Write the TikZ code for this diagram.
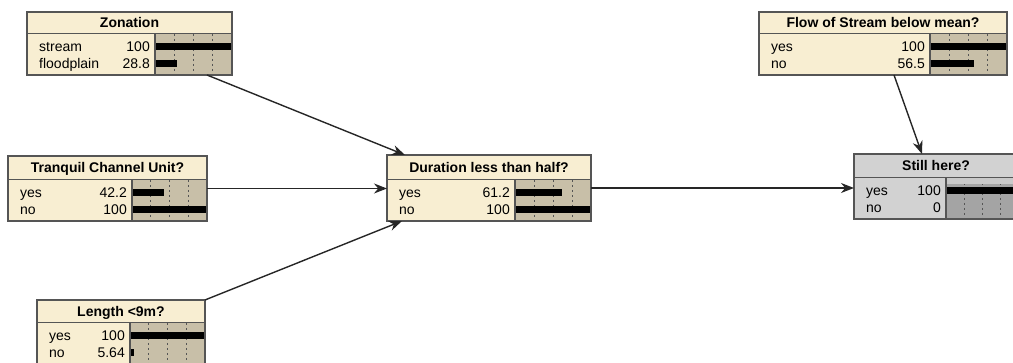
\documentclass[tikz,border=0pt]{standalone}
\usepackage{fontspec}
\setmainfont{Liberation Sans}
\usetikzlibrary{arrows.meta}
\definecolor{cream}{HTML}{F8EED2}
\definecolor{tanc}{HTML}{C8BFA8}
\definecolor{framec}{HTML}{555555}
\definecolor{ltgray}{HTML}{D2D2D2}
\definecolor{midgray}{HTML}{A4A4A4}
\colorlet{bodyc}{cream}
\colorlet{barc}{tanc}
\tikzset{
  boxframe/.style={draw=framec, line width=1.8pt},
  tickline/.style={draw=framec, line width=1pt, dash pattern=on 2pt off 3pt},
  titletext/.style={font=\bfseries\fontsize{14}{16}\selectfont, inner sep=0pt, anchor=base},
  lbl/.style={font=\fontsize{14}{16}\selectfont, inner sep=0pt, anchor=base west},
  val/.style={font=\fontsize{14}{16}\selectfont, inner sep=0pt, anchor=base east},
  arr/.style={draw=black!85, line width=1.4pt, -{Stealth[length=13pt,width=10pt]}},
}
% name, x1, y1, x2, y2, title-line y, bar-left x, title
\newcommand\bnbox[8]{%
  \def\bnxa{#2}\def\bnbx{#7}\def\bnxb{#4}\def\bnty{#6}\def\bnyb{#5}%
  \node[fill=bodyc, draw=none, inner sep=0pt, outer sep=0pt,
        minimum width={(#4-#2)*1pt}, minimum height={(#5-#3)*1pt}]
        (#1) at ({(#2+#4)/2},{(#3+#5)/2}) {};
  \node[titletext] (#1-t) at ({(#2+#4)/2},{(#3+#6)/2+5}) {#8};
  \fill[barc] (#7,#6) rectangle (#4,#5);
  \foreach \f in {0.25,0.5,0.75}
    \draw[tickline] ({#7+\f*(#4-#7)},#6) -- ({#7+\f*(#4-#7)},#5);
}
% name, y offset of row centre below title line, label, value, fraction
\newcommand\bnrow[5]{%
  \node[lbl] (#1-l) at ({\bnxa+12},{\bnty+#2+5}) {#3};
  \node[val] (#1-v) at ({\bnbx-5},{\bnty+#2+5}) {#4};
  \fill[black] (\bnbx,{\bnty+#2-3.7}) rectangle ({\bnbx+#5*(\bnxb-\bnbx)},{\bnty+#2+3.7});
}
\newcommand\bnclose[1]{%
  \draw[framec, line width=1pt] (\bnxa,\bnty) -- (\bnxb,\bnty);
  \draw[framec, line width=1.2pt] (\bnbx,\bnty) -- (\bnbx,\bnyb);
  \draw[boxframe] (#1.north west) rectangle (#1.south east);
}
\begin{document}
\begin{tikzpicture}[x=1pt,y=-1pt]
\useasboundingbox (0,0) rectangle (1013,363);
\clip (0,0) rectangle (1013,363);

% Zonation
\bnbox{zon}{27}{12}{232}{75}{34}{155}{Zonation}
\bnrow{zon-a}{12.5}{stream}{100}{1}
\bnrow{zon-b}{29.5}{floodplain}{28.8}{0.288}
\bnclose{zon}

% Tranquil Channel Unit?
\bnbox{tra}{8}{156}{207}{221}{180}{132}{Tranquil Channel Unit?}
\bnrow{tra-a}{12.5}{yes}{42.2}{0.422}
\bnrow{tra-b}{29.5}{no}{100}{1}
\bnclose{tra}

% Length <9m?
\bnbox{len}{37}{300}{205}{364}{323}{130}{Length <9m?}
\bnrow{len-a}{12.5}{yes}{100}{1}
\bnrow{len-b}{29.5}{no}{5.64}{0.0564}
\bnclose{len}

% Duration less than half?
\bnbox{dur}{387}{155}{591}{221}{180}{515}{Duration less than half?}
\bnrow{dur-a}{12.5}{yes}{61.2}{0.612}
\bnrow{dur-b}{29.5}{no}{100}{1}
\bnclose{dur}

% Flow of Stream below mean?
\bnbox{flo}{759}{12}{1007}{75}{34}{930}{Flow of Stream below mean?}
\bnrow{flo-a}{12.5}{yes}{100}{1}
\bnrow{flo-b}{29.5}{no}{56.5}{0.565}
\bnclose{flo}

% Still here?
\colorlet{bodyc}{ltgray}\colorlet{barc}{midgray}
\bnbox{sti}{854}{154}{1018}{219}{178}{946}{Still here?}
\fill[ltgray!80!midgray] (946,178) rectangle (1018,184);
\bnrow{sti-a}{12.5}{yes}{100}{1}
\bnrow{sti-b}{29.5}{no}{0}{0}
\bnclose{sti}

% connectors
\coordinate (zonout) at ([xshift=-25pt]zon.south east);
\coordinate (durin1) at ([xshift=18pt]dur.north west);
\coordinate (durin3) at ([xshift=15pt]dur.south west);
\coordinate (floout) at ([xshift=135pt]flo.south west);
\coordinate (stiin) at ([xshift=68pt]sti.north west);
\draw[arr] (zonout) -- (durin1);
\draw[arr] (tra.east) -- (tra.east -| dur.west);
\draw[arr] (len.north east) -- (durin3);
\draw[arr] (dur.east) -- (dur.east -| sti.west);
\draw[arr] (floout) -- (stiin);
\end{tikzpicture}
\end{document}
